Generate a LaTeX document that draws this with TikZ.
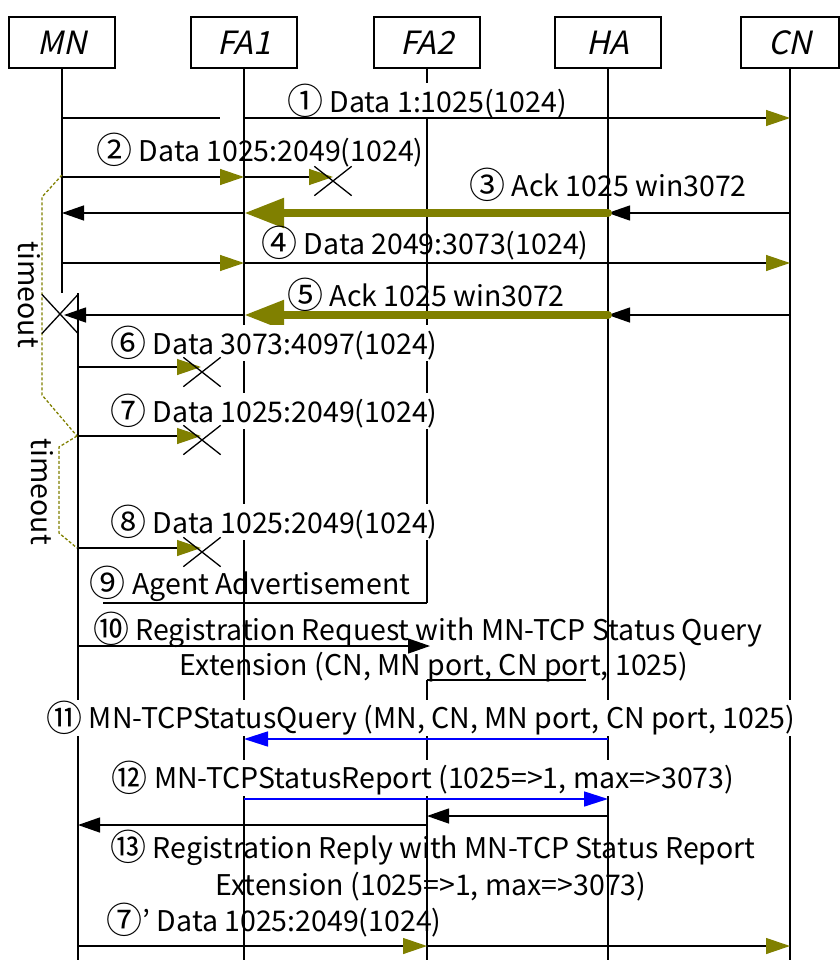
\documentclass[tikz,border=0pt]{standalone}
\usepackage{fontspec}
\setmainfont{Noto Sans CJK JP}
\newfontfamily\boxfont{Noto Sans CJK JP}[FakeSlant=0.22]
\usetikzlibrary{arrows.meta,shapes.misc}
\definecolor{olv}{RGB}{128,128,0}
\definecolor{blu}{RGB}{0,0,255}
\newcommand{\cnum}[1]{\raisebox{-2.5pt}{\fontsize{36}{33}\selectfont #1}}
\begin{document}
\begin{tikzpicture}[x=1pt,y=-1pt,
  lbl/.style={font=\fontsize{28.5}{33}\selectfont, inner sep=1pt},
  wlbl/.style={lbl, fill=white},
  actor/.style={draw, line width=1.3pt, minimum width=106pt, minimum height=51pt, font=\boxfont\fontsize{32}{34}\selectfont, inner sep=0pt},
  life/.style={line width=1.3pt},
  msg/.style={line width=1.3pt},
  otip/.style={-{Triangle[length=24pt,width=16pt,color=olv]}},
  btip/.style={-{Triangle[length=22pt,width=15pt,color=black]}},
  bigol/.style={line width=8pt, olv, line cap=round, -{Triangle[length=40pt,width=28pt]}},
  bluemsg/.style={line width=1.6pt, blu, -{Triangle[length=24pt,width=15pt]}},
  xmark/.style={draw, cross out, line width=1.3pt, minimum width=36pt, minimum height=28pt, inner sep=0pt},
  tout/.style={olv, line width=1.3pt, dash pattern=on 3pt off 2pt},
]
\useasboundingbox (0,0) rectangle (839,960);
% actors
\node[actor] (MN) at (62,42.5) {MN};
\node[actor] (FA1) at (244,42.5) {FA1};
\node[actor] (FA2) at (427,42.5) {FA2};
\node[actor] (HA) at (608,42.5) {HA};
\node[actor, minimum width=98pt] (CN) at (790,42.5) {CN};
% lifelines
\coordinate (MNe) at (62,293);
\coordinate (MN2t) at (78,293);
\coordinate (MN2b) at (78,960);
\coordinate (FA1b) at (244,960);
\coordinate (FA2m) at (427,603);
\coordinate (FA2r) at (427,680);
\coordinate (FA2b) at (427,960);
\coordinate (HAb) at (608,960);
\coordinate (CNb) at (790,960);
\draw[life] (MN) -- (MNe);
\draw[life] (MN2t) -- (MN2b);
\draw[life] (FA1) -- (FA1b);
\draw[life] (FA2) -- (FA2m);
\draw[life] (FA2r) -- (FA2b);
\draw[life] (HA) -- (HAb);
\draw[life] (CN) -- (CNb);
% timeout braces
\coordinate (ta) at (62,175);
\coordinate (tb) at (42,197);
\coordinate (tc) at (42,395);
\coordinate (td) at (77,436);
\coordinate (te) at (59,447);
\coordinate (tf) at (59,533);
\coordinate (tg) at (77,548);
\draw[tout] (ta) -- (tb) -- (tc) -- (td);
\draw[tout] (td) -- (te) -- (tf) -- (tg);
\node[lbl, rotate=-90] (to1) at (29,295) {timeout};
\node[lbl, rotate=-90] (to2) at (42,492) {timeout};
% 1
\coordinate (m1a) at (62,118);
\coordinate (m1b) at (220,118);
\coordinate (m1c) at (244,118);
\coordinate (m1d) at (790,118);
\node[wlbl] (t1) at (427,101) {\cnum{①} Data 1:1025(1024)};
\draw[msg] (m1a) -- (m1b);
\draw[msg, otip] (m1c) -- (m1d);
% 2
\coordinate (m2a) at (62,177);
\coordinate (m2b) at (244,177);
\coordinate (m2c) at (333,177);
\node[lbl] (t2) at (260,150) {\cnum{②} Data 1025:2049(1024)};
\draw[msg, otip] (m2a) -- (m2b);
\draw[msg, otip] (m2b) -- (m2c);
\node[xmark] (x2) at (333,181) {};
% 3
\coordinate (m3a) at (790,213);
\coordinate (m3b) at (608,213);
\coordinate (m3c) at (244,213);
\coordinate (m3d) at (62,213);
\node[lbl] (t3) at (608,185) {\cnum{③} Ack 1025 win3072};
\draw[msg, btip] (m3a) -- (m3b);
\draw[bigol] (m3b) -- (m3c);
\draw[msg, btip] (m3c) -- (m3d);
% 4
\coordinate (m4a) at (62,263);
\coordinate (m4b) at (244,263);
\coordinate (m4c) at (790,263);
\node[lbl] (t4) at (425,243) {\cnum{④} Data 2049:3073(1024)};
\draw[msg, otip] (m4a) -- (m4b);
\draw[msg, otip] (m4b) -- (m4c);
% 5
\coordinate (m5a) at (790,315);
\coordinate (m5b) at (608,315);
\coordinate (m5c) at (244,315);
\coordinate (m5d) at (64,315);
\node[lbl] (t5) at (426,295) {\cnum{⑤} Ack 1025 win3072};
\draw[msg, btip] (m5a) -- (m5b);
\draw[bigol] (m5b) -- (m5c);
\draw[msg, btip] (m5c) -- (m5d);
\node[xmark, minimum width=35pt, minimum height=38pt] (x5) at (60,314) {};
% 6
\coordinate (m6a) at (78,367);
\coordinate (m6b) at (201,367);
\node[wlbl] (t6) at (274,343) {\cnum{⑥} Data 3073:4097(1024)};
\draw[msg, otip] (m6a) -- (m6b);
\node[xmark] (x6) at (202,372) {};
% 7
\coordinate (m7a) at (78,436);
\coordinate (m7b) at (201,436);
\node[wlbl] (t7) at (274,411) {\cnum{⑦} Data 1025:2049(1024)};
\draw[msg, otip] (m7a) -- (m7b);
\node[xmark] (x7) at (202,440) {};
% 8
\coordinate (m8a) at (78,548);
\coordinate (m8b) at (201,548);
\node[wlbl] (t8) at (274,522) {\cnum{⑧} Data 1025:2049(1024)};
\draw[msg, otip] (m8a) -- (m8b);
\node[xmark] (x8) at (202,552) {};
% 9
\coordinate (m9a) at (103,603);
\node[lbl] (t9) at (250,584) {\cnum{⑨} Agent Advertisement};
\draw[msg] (m9a) -- (FA2m);
% 10
\coordinate (m10a) at (78,646);
\coordinate (m10b) at (430,646);
\coordinate (m10u) at (586,680);
\node[lbl] (t10a) at (428,630) {\cnum{⑩} Registration Request with MN-TCP Status Query};
\node[lbl] (t10b) at (434,667) {Extension (CN, MN port, CN port, 1025)};
\draw[msg, btip] (m10a) -- (m10b);
\draw[msg] (FA2r) -- (m10u);
% 11
\coordinate (m11a) at (608,739);
\coordinate (m11b) at (244,739);
\node[wlbl] (t11) at (421,718) {\cnum{⑪} MN-TCPStatusQuery (MN, CN, MN port, CN port, 1025)};
\draw[bluemsg] (m11a) -- (m11b);
% 12
\coordinate (m12a) at (244,799);
\coordinate (m12b) at (608,799);
\node[wlbl] (t12) at (423,778) {\cnum{⑫} MN-TCPStatusReport (1025=>1, max=>3073)};
\draw[bluemsg] (m12a) -- (m12b);
% 13
\coordinate (m13a) at (608,816);
\coordinate (m13b) at (427,816);
\coordinate (m13c) at (427,825);
\coordinate (m13d) at (78,825);
\draw[msg, btip] (m13a) -- (m13b);
\draw[msg, btip] (m13c) -- (m13d);
\node[lbl] (t13a) at (433,848) {\cnum{⑬} Registration Reply with MN-TCP Status Report};
\node[lbl] (t13b) at (431,887) {Extension (1025=>1, max=>3073)};
% 7'
\coordinate (m14a) at (78,946);
\coordinate (m14b) at (427,946);
\coordinate (m14c) at (790,946);
\node[lbl] (t14) at (274,920) {\cnum{⑦}’ Data 1025:2049(1024)};
\draw[msg, otip] (m14a) -- (m14b);
\draw[msg, otip] (m14b) -- (m14c);
\end{tikzpicture}
\end{document}
